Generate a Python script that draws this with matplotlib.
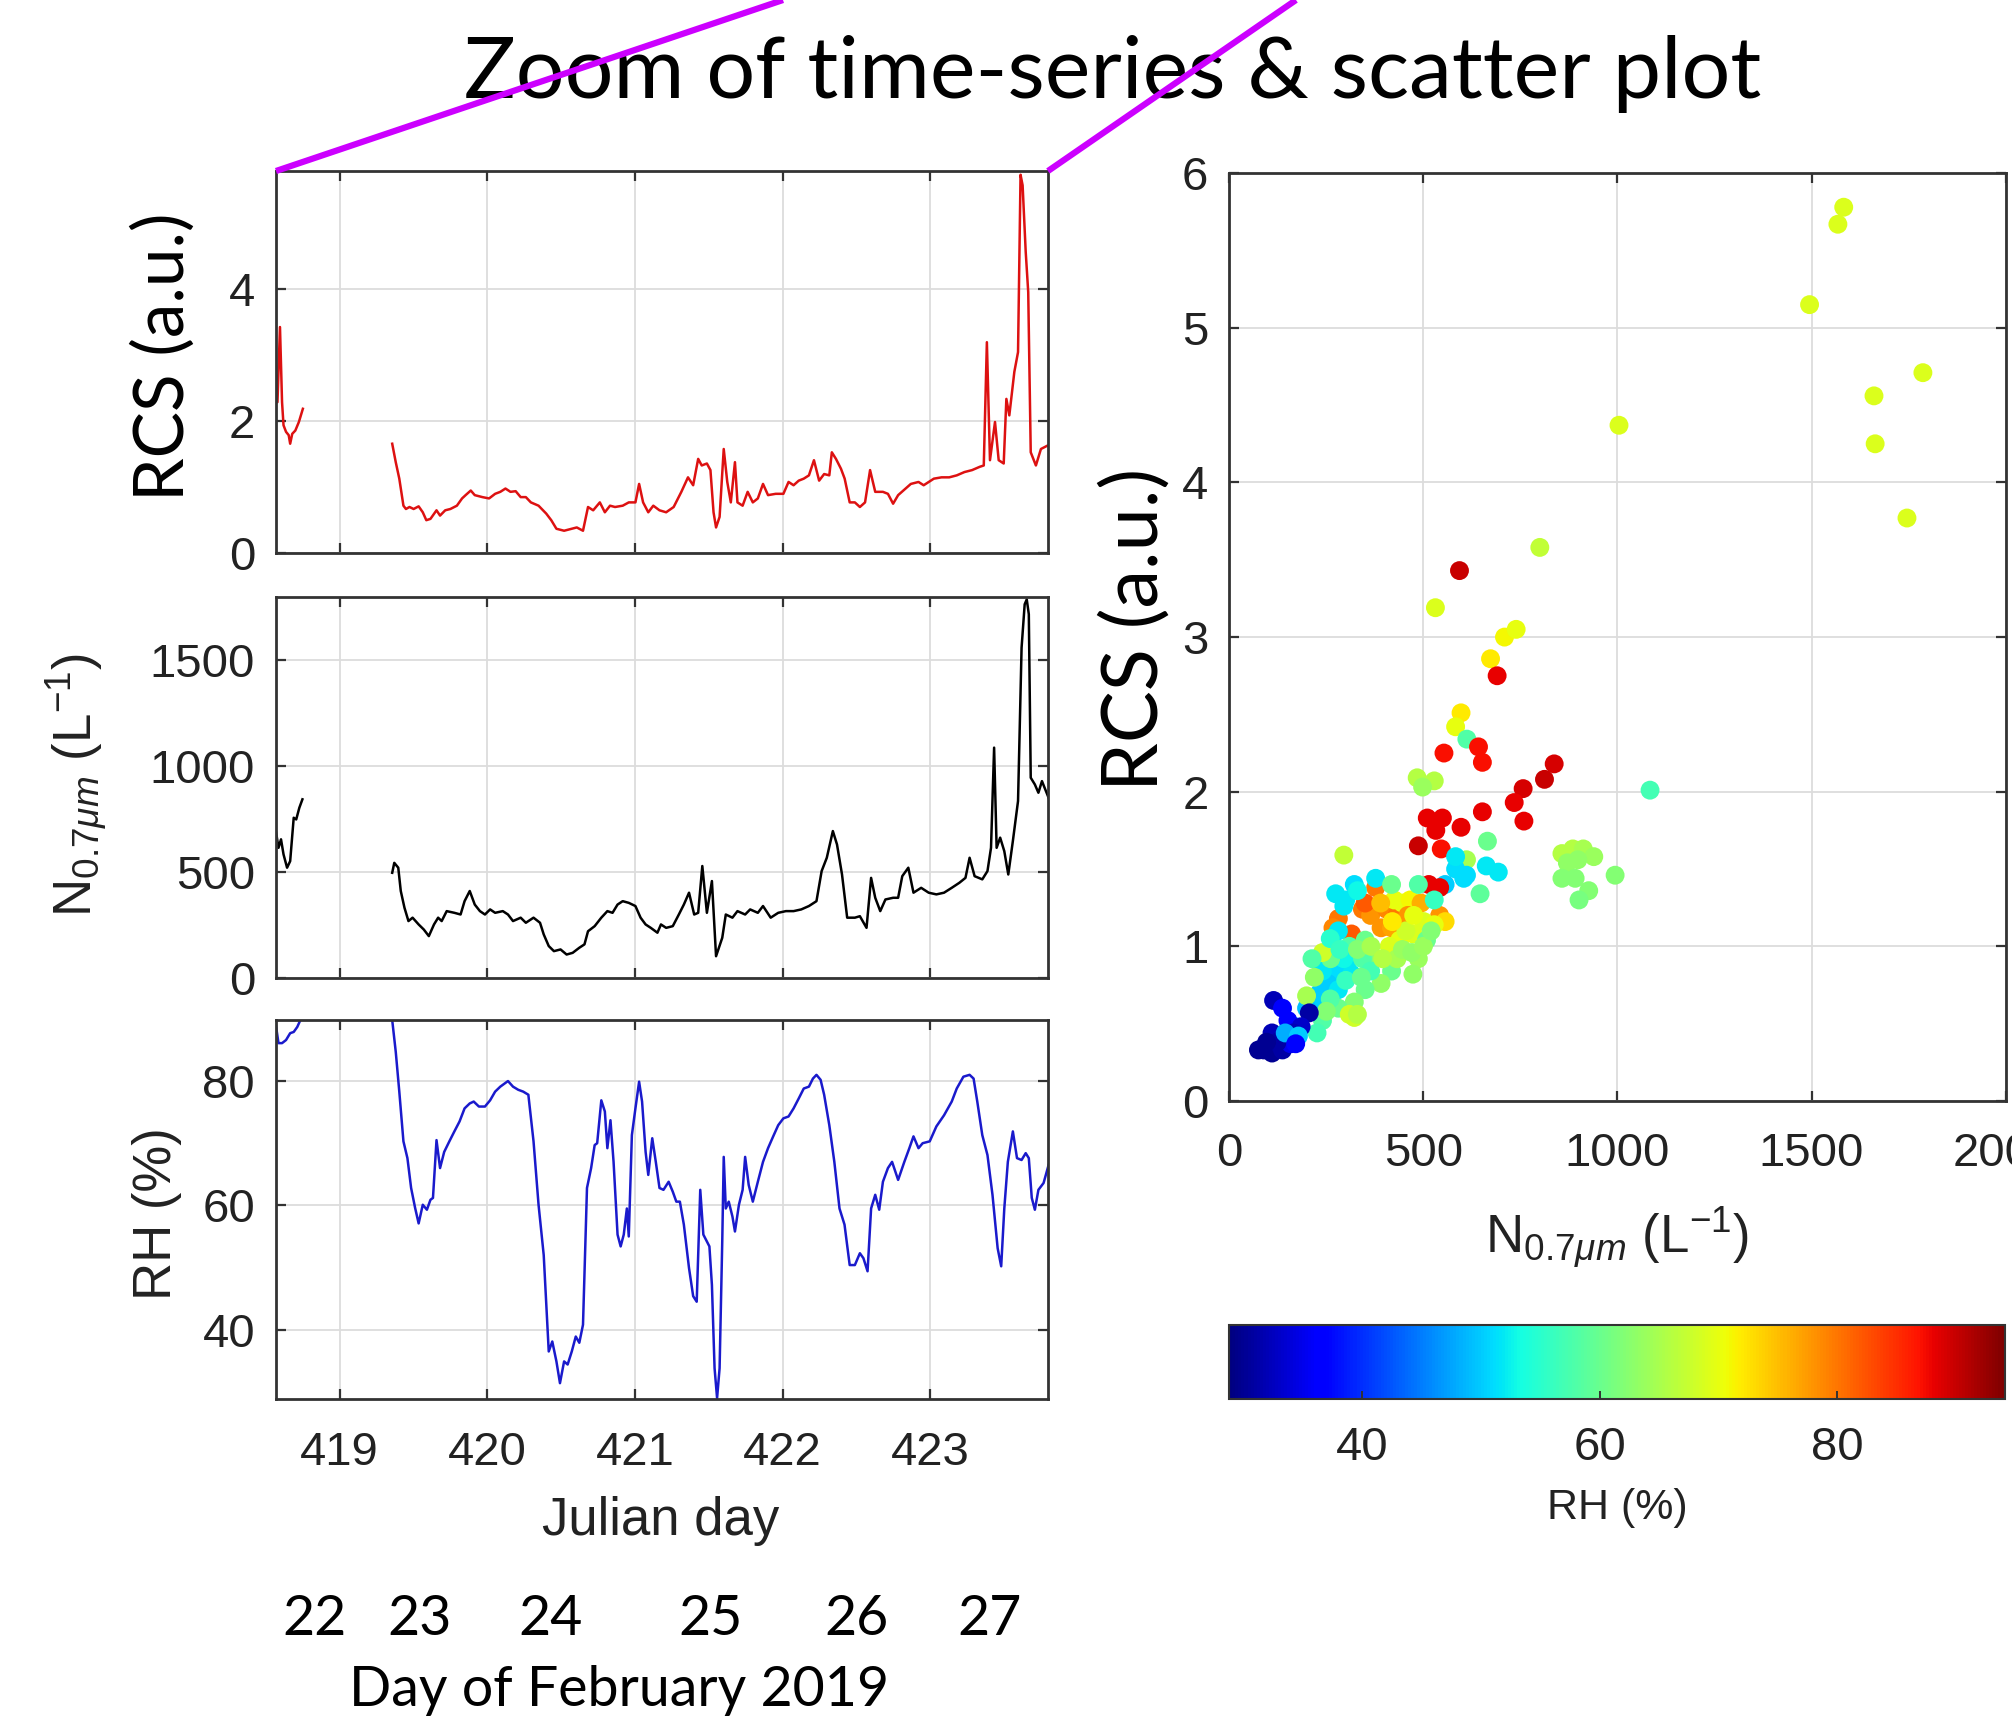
import numpy as np
import matplotlib.pyplot as plt
import matplotlib.transforms as mtransforms
from matplotlib.lines import Line2D

# ---- time series (Julian day) ----
rcs_time = [418.568, 418.579, 418.596, 418.610, 418.620, 418.637, 418.655, 418.665, 418.679, 418.700,
            418.724, 418.751, np.nan,
            419.356, 419.380, 419.404, 419.432, 419.449, 419.473, 419.501, 419.535, 419.563, 419.587,
            419.615, 419.656, 419.680, 419.715, 419.750, 419.794, 419.829, 419.853, 419.888, 419.915,
            419.967, 420.012, 420.053, 420.088, 420.123, 420.157, 420.192, 420.226, 420.261, 420.295,
            420.347, 420.399, 420.433, 420.468, 420.520, 420.572, 420.606, 420.648, 420.682, 420.717,
            420.762, 420.796, 420.831, 420.865, 420.917, 420.958, 421.003, 421.028, 421.055, 421.090,
            421.124, 421.166, 421.211, 421.262, 421.314, 421.359, 421.394, 421.428, 421.452, 421.487,
            421.511, 421.532, 421.549, 421.573, 421.601, 421.625, 421.649, 421.677, 421.694, 421.729,
            421.763, 421.798, 421.832, 421.867, 421.901, 421.953, 422.005, 422.040, 422.074, 422.109,
            422.143, 422.178, 422.212, 422.247, 422.281, 422.316, 422.333, 422.361, 422.395, 422.420,
            422.454, 422.489, 422.523, 422.558, 422.592, 422.627, 422.679, 422.713, 422.748, 422.782,
            422.817, 422.868, 422.920, 422.955, 423.024, 423.076, 423.128, 423.179, 423.231, 423.283,
            423.335, 423.362, 423.383, 423.404, 423.438, 423.463, 423.497, 423.515, 423.535, 423.569,
            423.594, 423.611, 423.625, 423.646, 423.663, 423.680, 423.715, 423.749, 423.801]
rcs_vals = [2.70, 2.29, 3.43, 2.29, 1.94, 1.84, 1.79, 1.66, 1.81, 1.86,
            1.99, 2.19, np.nan,
            1.66, 1.38, 1.13, 0.72, 0.67, 0.70, 0.67, 0.71, 0.62, 0.50,
            0.52, 0.65, 0.57, 0.65, 0.67, 0.72, 0.83, 0.88, 0.95, 0.88,
            0.85, 0.83, 0.90, 0.93, 0.98, 0.93, 0.94, 0.85, 0.85, 0.77,
            0.72, 0.60, 0.50, 0.37, 0.34, 0.37, 0.39, 0.34, 0.70, 0.65,
            0.77, 0.62, 0.72, 0.70, 0.72, 0.77, 0.77, 1.05, 0.77, 0.62,
            0.72, 0.65, 0.62, 0.70, 0.93, 1.15, 1.03, 1.43, 1.33, 1.36,
            1.26, 0.62, 0.39, 0.55, 1.58, 1.08, 0.77, 1.38, 0.77, 0.72,
            0.93, 0.77, 0.83, 1.05, 0.88, 0.90, 0.90, 1.08, 1.03, 1.10,
            1.13, 1.18, 1.41, 1.10, 1.20, 1.18, 1.53, 1.43, 1.28, 1.13,
            0.77, 0.77, 0.70, 0.77, 1.26, 0.93, 0.93, 0.90, 0.75, 0.88,
            0.95, 1.05, 1.08, 1.03, 1.13, 1.15, 1.15, 1.18, 1.23, 1.26,
            1.31, 1.33, 3.20, 1.41, 1.99, 1.41, 1.36, 2.34, 2.09, 2.75,
            3.05, 5.74, 5.58, 4.57, 3.96, 1.53, 1.33, 1.58, 1.64]

n_time = [418.568, 418.586, 418.603, 418.620, 418.644, 418.665, 418.689, 418.706, 418.727, 418.748, np.nan,
          419.356, 419.370, 419.397, 419.414, 419.439, 419.466, 419.494, 419.535, 419.570, 419.604,
          419.639, 419.667, 419.691, 419.725, 419.777, 419.819, 419.846, 419.881, 419.915, 419.950,
          419.984, 420.019, 420.053, 420.105, 420.140, 420.174, 420.226, 420.261, 420.313, 420.357,
          420.382, 420.416, 420.451, 420.496, 420.537, 420.578, 420.623, 420.658, 420.682, 420.727,
          420.772, 420.813, 420.848, 420.882, 420.917, 420.958, 421.003, 421.038, 421.072, 421.107,
          421.152, 421.176, 421.211, 421.256, 421.297, 421.331, 421.366, 421.401, 421.428, 421.456,
          421.487, 421.521, 421.549, 421.591, 421.615, 421.660, 421.694, 421.746, 421.780, 421.832,
          421.867, 421.919, 421.970, 422.022, 422.074, 422.126, 422.178, 422.229, 422.264, 422.299,
          422.340, 422.368, 422.402, 422.437, 422.489, 422.523, 422.568, 422.599, 422.627, 422.661,
          422.696, 422.748, 422.782, 422.810, 422.851, 422.886, 422.938, 422.989, 423.041, 423.093,
          423.145, 423.197, 423.238, 423.266, 423.300, 423.352, 423.387, 423.411, 423.432, 423.449,
          423.473, 423.501, 423.528, 423.559, 423.594, 423.618, 423.639, 423.653, 423.667, 423.680,
          423.708, 423.732, 423.756, 423.801]
n_vals = [693, 614, 654, 583, 520, 551, 756, 748, 803, 843, np.nan,
          496, 543, 520, 410, 331, 268, 284, 252, 228, 197,
          252, 284, 268, 315, 307, 299, 362, 410, 346, 315,
          299, 323, 307, 315, 299, 268, 284, 260, 284, 260,
          205, 150, 126, 134, 110, 118, 142, 158, 220, 244,
          284, 315, 307, 346, 362, 354, 339, 284, 252, 236,
          213, 252, 236, 244, 299, 346, 402, 299, 307, 528,
          307, 457, 102, 189, 299, 284, 315, 299, 323, 307,
          339, 284, 307, 315, 315, 323, 339, 362, 504, 567,
          693, 630, 488, 284, 284, 291, 236, 472, 378, 315,
          370, 378, 378, 480, 520, 402, 425, 402, 394, 402,
          425, 449, 472, 567, 480, 465, 504, 614, 1087, 614,
          662, 598, 488, 646, 835, 1559, 1764, 1787, 1717, 945,
          913, 874, 929, 850]

rh_time = [418.568, 418.586, 418.610, 418.637, 418.665, 418.689, 418.713, 418.734, 418.751, np.nan,
           419.335, 419.356, 419.380, 419.404, 419.432, 419.459, 419.484, 419.511, 419.535, 419.563,
           419.591, 419.615, 419.632, 419.656, 419.680, 419.708, 419.743, 419.777, 419.812, 419.846,
           419.881, 419.908, 419.943, 419.984, 420.019, 420.053, 420.088, 420.140, 420.174, 420.209,
           420.243, 420.278, 420.313, 420.347, 420.382, 420.416, 420.440, 420.468, 420.492, 420.520,
           420.544, 420.572, 420.599, 420.623, 420.648, 420.675, 420.703, 420.727, 420.744, 420.772,
           420.796, 420.813, 420.834, 420.855, 420.882, 420.903, 420.924, 420.945, 420.958, 420.979,
           421.003, 421.028, 421.048, 421.072, 421.090, 421.117, 421.141, 421.166, 421.193, 421.228,
           421.256, 421.280, 421.304, 421.331, 421.366, 421.394, 421.418, 421.442, 421.463, 421.487,
           421.504, 421.521, 421.539, 421.556, 421.573, 421.591, 421.601, 421.615, 421.635, 421.660,
           421.677, 421.704, 421.729, 421.746, 421.770, 421.798, 421.832, 421.867, 421.901, 421.936,
           421.970, 422.005, 422.040, 422.074, 422.109, 422.143, 422.178, 422.205, 422.229, 422.257,
           422.281, 422.316, 422.350, 422.385, 422.419, 422.454, 422.489, 422.523, 422.547, 422.575,
           422.599, 422.627, 422.654, 422.679, 422.713, 422.741, 422.782, 422.824, 422.858, 422.886,
           422.920, 422.948, 422.996, 423.041, 423.093, 423.145, 423.179, 423.224, 423.266, 423.293,
           423.318, 423.352, 423.387, 423.421, 423.456, 423.480, 423.501, 423.525, 423.559, 423.587,
           423.618, 423.646, 423.667, 423.687, 423.708, 423.732, 423.767, 423.801]
rh_vals = [89.0, 86.1, 86.1, 86.6, 87.7, 87.9, 88.7, 89.8, 91.0, np.nan,
           93.0, 89.8, 84.7, 78.3, 70.3, 67.6, 62.8, 59.6, 57.1, 60.1,
           59.3, 60.9, 61.2, 70.5, 66.0, 68.6, 70.3, 71.9, 73.5, 75.6,
           76.4, 76.7, 75.9, 75.9, 76.9, 78.3, 79.1, 80.0, 79.1, 78.6,
           78.3, 77.8, 70.3, 60.1, 52.0, 36.5, 38.1, 34.9, 31.4, 34.9,
           34.4, 36.5, 38.9, 37.9, 40.8, 62.8, 66.0, 69.7, 70.0, 76.9,
           75.1, 69.2, 73.7, 67.0, 55.3, 53.4, 55.3, 59.5, 55.0, 71.3,
           75.6, 79.9, 76.7, 68.6, 64.9, 70.8, 67.0, 62.8, 62.5, 63.8,
           62.2, 60.6, 60.6, 56.9, 49.9, 45.4, 44.5, 62.5, 55.3, 54.2,
           53.4, 47.2, 33.8, 29.0, 33.8, 54.2, 67.8, 59.5, 60.6, 58.2,
           55.8, 60.1, 62.5, 67.8, 63.3, 60.6, 63.8, 67.0, 69.2, 71.1,
           72.9, 74.0, 74.3, 75.6, 77.2, 78.8, 79.1, 80.4, 81.0, 80.2,
           77.8, 72.9, 67.0, 59.5, 56.9, 50.4, 50.4, 52.3, 51.5, 49.4,
           59.5, 61.7, 59.3, 63.8, 66.0, 67.0, 64.1, 67.0, 69.2, 71.1,
           69.2, 70.0, 70.3, 72.7, 74.5, 76.7, 78.8, 80.7, 81.0, 80.4,
           76.7, 71.3, 68.1, 61.7, 53.1, 50.2, 59.5, 67.0, 71.9, 67.6,
           67.3, 68.4, 67.6, 61.2, 59.3, 62.5, 63.6, 66.5]

# ---- scatter: N_0.7um vs RCS, coloured by RH ----
sc_n = [1583, 1568, 1495, 1787, 1661, 1664, 1746, 1004, 800, 593, 531, 709, 739, 673, 690, 597,
        583, 612, 553, 642, 652, 837, 812, 757, 734, 759, 652, 510, 532, 549, 597, 487, 546,
        484, 528, 498, 1084, 665, 611, 295, 857, 885, 912, 939, 871, 898, 857, 891, 926, 901,
        994, 662, 693, 583, 611, 646, 556, 542, 377, 343, 364, 405, 432, 446, 425, 466, 391,
        418, 460, 281, 267, 315, 350, 514, 494, 542, 556, 501, 528, 473, 439, 412, 274, 322,
        377, 583, 604, 295, 281, 309, 302, 274, 254, 233, 219, 281, 315, 295, 240, 171, 199,
        350, 377, 418, 391, 350, 322, 281, 240, 226, 261, 343, 364, 432, 446, 487, 473, 508,
        528, 487, 418, 309, 322, 199, 219, 240, 213, 300, 330, 260, 285, 330, 365, 395, 455,
        475, 420, 390, 470, 500, 520, 260, 300, 340, 330, 250,
        114, 137, 151, 206, 185, 165, 110, 89, 110, 137, 158, 123, 96, 75, 144, 178, 171]
sc_rcs = [5.78, 5.67, 5.15, 4.71, 4.56, 4.25, 3.77, 4.37, 3.58, 3.43, 3.19, 3.00, 3.05, 2.86, 2.75,
          2.51, 2.42, 2.34, 2.25, 2.29, 2.19, 2.18, 2.08, 2.02, 1.93, 1.81, 1.87, 1.83, 1.75, 1.83,
          1.77, 1.65, 1.63, 2.09, 2.07, 2.03, 2.01, 1.68, 1.56, 1.59, 1.60, 1.63, 1.63, 1.58, 1.54,
          1.56, 1.44, 1.44, 1.36, 1.30, 1.46, 1.52, 1.48, 1.50, 1.46, 1.34, 1.40, 1.38, 1.38, 1.24,
          1.20, 1.24, 1.20, 1.28, 1.30, 1.30, 1.12, 1.12, 1.20, 1.18, 1.12, 1.08, 1.28, 1.40, 1.28,
          1.20, 1.16, 1.16, 1.14, 1.08, 1.04, 1.00, 1.34, 1.40, 1.44, 1.58, 1.44, 1.26, 1.10, 1.00,
          0.88, 0.84, 0.76, 0.70, 0.64, 0.72, 0.82, 0.92, 0.84, 0.48, 0.60, 1.04, 0.92, 0.84, 0.76,
          0.72, 0.64, 0.60, 0.52, 0.44, 0.92, 0.92, 0.84, 0.92, 0.98, 0.92, 0.82, 1.04, 1.30, 1.40,
          1.40, 0.56, 0.54, 0.68, 0.80, 0.96, 0.92, 1.30, 1.36, 1.05, 0.98, 0.98, 1.00, 0.92, 1.10,
          1.20, 1.16, 1.28, 0.96, 1.00, 1.10, 0.66, 0.78, 0.80, 0.56, 0.58,
          0.65, 0.60, 0.52, 0.57, 0.48, 0.44, 0.44, 0.33, 0.31, 0.33, 0.37, 0.38, 0.38, 0.33, 0.44,
          0.42, 0.37]
sc_rh = [69, 69, 69, 69, 69, 69, 69, 69, 67, 90, 69, 71, 70, 72, 88, 72,
         70, 58, 87, 87, 87, 89, 90, 89, 88, 88, 88, 88, 88, 88, 88, 90, 87,
         66, 66, 64, 57, 60, 65, 67, 66, 66, 65, 64, 63, 63, 62, 62, 62, 61,
         62, 52, 52, 51, 51, 59, 50, 88, 80, 80, 78, 79, 80, 70, 70, 71, 78,
         77, 78, 80, 79, 82, 82, 88, 76, 78, 73, 69, 70, 69, 70, 69, 52, 51,
         52, 52, 51, 52, 52, 58, 52, 51, 50, 50, 50, 52, 52, 53, 52, 48, 49,
         60, 62, 60, 63, 60, 62, 60, 58, 57, 60, 58, 57, 65, 64, 64, 63, 60,
         56, 58, 60, 68, 68, 65, 63, 68, 58, 52, 53, 55, 56, 62, 65, 66, 68,
         70, 72, 75, 63, 64, 62, 58, 56, 60, 66, 62,
         32, 36, 36, 31, 33, 32, 32, 30, 30, 31, 35, 31, 30, 30, 48, 50, 37]

day_labels = ['22', '23', '24', '25', '26', '27']
day_pos = [418.83, 419.54, 420.43, 421.51, 422.50, 423.40]

plt.rcParams['font.family'] = ['Liberation Sans', 'DejaVu Sans']
plt.rcParams['mathtext.fontset'] = 'custom'
plt.rcParams['mathtext.rm'] = 'Liberation Sans'
plt.rcParams['mathtext.it'] = 'Liberation Sans:italic'
plt.rcParams['mathtext.bf'] = 'Liberation Sans:bold'

OVER = ['Lato', 'DejaVu Sans']
TICK = 34
LAB = 38
AX_C = '#333333'


def style(ax, xpad=23, ypad=15):
    ax.grid(True, color='#dcdcdc', lw=1.3)
    ax.set_axisbelow(True)
    ax.tick_params(direction='in', top=True, right=True, length=7, width=1.6,
                   color=AX_C, labelsize=TICK, labelcolor='#222222')
    ax.tick_params(axis='x', pad=xpad)
    ax.tick_params(axis='y', pad=ypad)
    for s in ax.spines.values():
        s.set_color(AX_C)
        s.set_linewidth(2)


fig = plt.figure(figsize=(20.12, 17.2), dpi=100)

ax1 = fig.add_axes([0.1371, 0.6784, 0.3840, 0.2223])
ax2 = fig.add_axes([0.1371, 0.4315, 0.3840, 0.2216])
ax3 = fig.add_axes([0.1371, 0.1868, 0.3840, 0.2201])
ax4 = fig.add_axes([0.6110, 0.3599, 0.3858, 0.5394])
cax = fig.add_axes([0.6110, 0.1868, 0.3853, 0.0426])

ax1.plot(rcs_time, rcs_vals, color='#dd1111', lw=1.8)
ax2.plot(n_time, n_vals, color='black', lw=1.8)
ax3.plot(rh_time, rh_vals, color='#1a1acc', lw=1.8)

xt = [419, 420, 421, 422, 423]
for ax in (ax1, ax2, ax3):
    style(ax)
    ax.set_xlim(418.568, 423.80)
    ax.set_xticks(xt)
for ax in (ax1, ax2):
    ax.tick_params(labelbottom=False)

ax1.set_ylim(0, 5.8)
ax1.set_yticks([0, 2, 4])
ax2.set_ylim(0, 1800)
ax2.set_yticks([0, 500, 1000, 1500])
ax3.set_ylim(28.9, 89.8)
ax3.set_yticks([40, 60, 80])

ax2.set_ylabel(r'N$_{0.7\mu m}$ (L$^{-1}$)', fontsize=LAB, color='#222222', va='center')
ax2.yaxis.set_label_coords(-0.257, 0.506)
ax3.set_ylabel('RH (%)', fontsize=LAB, color='#222222', va='center')
ax3.yaxis.set_label_coords(-0.154, 0.49)
ax3.set_xlabel('Julian day', fontsize=LAB, color='#222222', va='center')
ax3.xaxis.set_label_coords(0.4985, -0.323)

# scatter
sc = ax4.scatter(sc_n, sc_rcs, c=sc_rh, cmap='jet', vmin=28.8, vmax=94.1,
                 s=185, edgecolors='none')
style(ax4, xpad=22, ypad=15)
ax4.set_xlim(0, 2000)
ax4.set_ylim(0, 6)
ax4.set_xticks([0, 500, 1000, 1500, 2000])
ax4.set_yticks(range(7))
ax4.set_xlabel(r'N$_{0.7\mu m}$ (L$^{-1}$)', fontsize=LAB, color='#222222', va='center')
ax4.xaxis.set_label_coords(0.4994, -0.1477)

cb = fig.colorbar(sc, cax=cax, orientation='horizontal')
cb.set_ticks([40, 60, 80])
cb.outline.set_linewidth(1.5)
cb.outline.set_edgecolor(AX_C)
cax.tick_params(direction='in', length=6, width=1.4, color=AX_C, labelsize=TICK,
                labelcolor='#222222', pad=20)
cb.set_label('RH (%)', fontsize=31, color='#222222', va='center')
cax.xaxis.set_label_coords(0.5, -1.49)

# overlay texts
fig.text(0.553, 0.957, 'Zoom of time-series & scatter plot', family=OVER, fontsize=62,
         ha='center', va='center')
fig.text(0.0815, 0.7924, 'RCS (a.u.)', family=OVER, fontsize=50, rotation=90,
         ha='center', va='center')
fig.text(0.5646, 0.6343, 'RCS (a.u.)', family=OVER, fontsize=56, rotation=90,
         ha='center', va='center')

blend = mtransforms.blended_transform_factory(ax3.transData, fig.transFigure)
for lab, pos in zip(day_labels, day_pos):
    ax3.text(pos, 0.0587, lab, transform=blend, family=OVER, fontsize=40,
             ha='center', va='center', clip_on=False)
fig.text(0.3077, 0.0169, 'Day of February 2019', family=OVER, fontsize=40,
         ha='center', va='center')

# magenta zoom lines
for x0, x1 in ((276, 783), (1048, 1296)):
    fig.add_artist(Line2D([x0 / 2012, x1 / 2012], [1 - 171 / 1720, 1.0],
                          transform=fig.transFigure, color='#cc00ff', lw=4.5,
                          solid_capstyle='butt', zorder=20))

fig.savefig('out.png', dpi=100)
